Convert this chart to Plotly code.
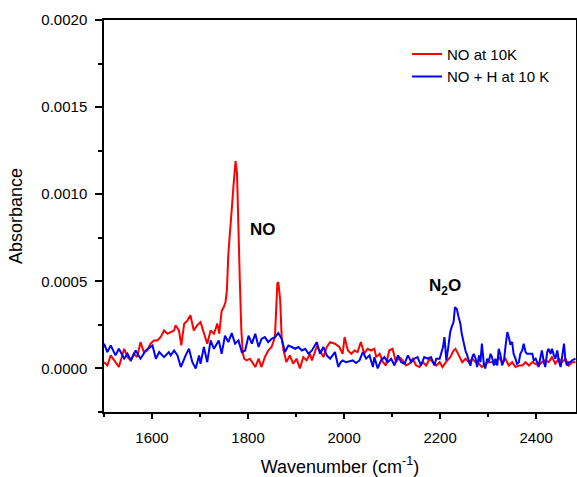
import plotly.graph_objects as go

# NO at 10K (red)
red_wn = [1500, 1507, 1514, 1521, 1531, 1542, 1549, 1556, 1562, 1569, 1576, 1583, 1590, 1597,
          1604, 1611, 1618, 1625, 1632, 1639, 1646, 1649, 1656, 1661, 1667, 1674, 1680, 1687,
          1694, 1701, 1708, 1715, 1722, 1729, 1736, 1740, 1745, 1749, 1753, 1756, 1759, 1763,
          1766, 1770, 1774, 1777, 1780, 1783, 1786, 1789, 1792, 1797, 1804, 1811, 1815, 1822,
          1828, 1835, 1842, 1849, 1856, 1861, 1863, 1867, 1870, 1874, 1880, 1887, 1894, 1901,
          1908, 1915, 1922, 1929, 1933, 1943, 1950, 1957, 1964, 1971, 1981, 1990, 1997, 2001,
          2008, 2015, 2022, 2028, 2035, 2042, 2049, 2056, 2063, 2067, 2074, 2081, 2087, 2094,
          2101, 2108, 2115, 2122, 2129, 2136, 2143, 2150, 2157, 2164, 2171, 2178, 2185, 2192,
          2199, 2205, 2212, 2221, 2228, 2232, 2239, 2246, 2253, 2260, 2267, 2274, 2281, 2287,
          2294, 2301, 2308, 2315, 2322, 2329, 2336, 2343, 2350, 2357, 2364, 2371, 2378, 2385,
          2392, 2399, 2405, 2412, 2419, 2426, 2433, 2440, 2447, 2454, 2461, 2468, 2475, 2482]
red_abs = [0.000036, 0.000017, 0.000075, 0.000046, 0.000008, 0.000113, 0.000065, 0.000046,
           0.000084, 0.000065, 0.000151, 0.000094, 0.000103, 0.000142, 0.000161, 0.000161,
           0.000180, 0.000218, 0.000199, 0.000209, 0.000218, 0.000247, 0.000218, 0.000132,
           0.000257, 0.000276, 0.000305, 0.000218, 0.000247, 0.000266, 0.000199, 0.000142,
           0.000218, 0.000199, 0.000257, 0.000200, 0.000330, 0.000350, 0.000380, 0.000450,
           0.000660, 0.000780, 0.000910, 0.001060, 0.001190, 0.001120, 0.000870, 0.000490,
           0.000220, 0.000090, 0.000056, 0.000046, 0.000056, 0.000027, 0.000008, 0.000056,
           0.000008, 0.000065, 0.000103, 0.000123, 0.000180, 0.000487, 0.000496, 0.000390,
           0.000180, 0.000103, 0.000036, 0.000075, 0.000027, 0.000056, 0.000000, 0.000065,
           0.000046, 0.000084, 0.000046, 0.000123, 0.000103, 0.000065, 0.000123, 0.000151,
           0.000142, 0.000123, 0.000084, 0.000180, 0.000103, 0.000084, 0.000103, 0.000094,
           0.000151, 0.000084, 0.000113, 0.000103, 0.000113, 0.000065, 0.000084, 0.000036,
           0.000017, 0.000103, 0.000113, 0.000036, 0.000065, 0.000046, 0.000017, 0.000027,
           0.000056, 0.000017, 0.000008, 0.000036, 0.000017, 0.000056, 0.000036, 0.000017,
           0.000036, 0.000008, 0.000036, 0.000065, 0.000103, 0.000113, 0.000075, 0.000036,
           0.000056, 0.000036, 0.000056, 0.000036, 0.000027, 0.000008, 0.000027, 0.000036,
           0.000036, 0.000027, 0.000065, 0.000036, 0.000056, 0.000017, 0.000036, 0.000008,
           0.000017, 0.000017, 0.000036, 0.000017, 0.000036, 0.000027, 0.000017, 0.000036,
           0.000046, 0.000036, 0.000065, 0.000027, 0.000056, 0.000036, 0.000056, 0.000017,
           0.000036, 0.000036]

# NO + H at 10 K (blue)
blue_wn = [1500, 1507, 1514, 1524, 1531, 1542, 1549, 1556, 1566, 1576, 1587, 1601, 1608, 1615,
           1625, 1635, 1639, 1646, 1653, 1660, 1670, 1677, 1684, 1691, 1698, 1701, 1708, 1715,
           1722, 1729, 1739, 1745, 1752, 1759, 1766, 1773, 1780, 1787, 1794, 1801, 1808, 1815,
           1822, 1828, 1835, 1842, 1849, 1856, 1863, 1870, 1877, 1884, 1891, 1898, 1905, 1912,
           1919, 1926, 1933, 1940, 1943, 1950, 1957, 1964, 1971, 1981, 1988, 1993, 1997, 2004,
           2011, 2018, 2025, 2032, 2039, 2046, 2053, 2060, 2063, 2070, 2077, 2084, 2091, 2098,
           2105, 2112, 2119, 2126, 2133, 2140, 2146, 2153, 2160, 2167, 2174, 2181, 2188, 2192,
           2199, 2206, 2209, 2213, 2217, 2221, 2224, 2228, 2231, 2235, 2238, 2242, 2245, 2249,
           2253, 2256, 2260, 2263, 2267, 2270, 2274, 2277, 2281, 2284, 2287, 2291, 2294, 2298,
           2301, 2305, 2308, 2312, 2315, 2319, 2322, 2326, 2329, 2333, 2336, 2340, 2343, 2346,
           2350, 2353, 2357, 2360, 2364, 2367, 2371, 2374, 2378, 2381, 2385, 2392, 2395, 2399,
           2402, 2405, 2409, 2412, 2416, 2419, 2423, 2426, 2430, 2433, 2437, 2440, 2444, 2447,
           2451, 2454, 2458, 2461, 2464, 2468, 2471, 2475, 2482]
blue_abs = [0.000142, 0.000094, 0.000132, 0.000075, 0.000113, 0.000056, 0.000084, 0.000046,
            0.000103, 0.000056, 0.000103, 0.000132, 0.000056, 0.000094, 0.000065, 0.000094,
            0.000075, 0.000103, 0.000075, 0.000008, 0.000075, 0.000113, 0.000036, 0.000000,
            0.000075, 0.000027, 0.000123, 0.000036, 0.000161, 0.000113, 0.000161, 0.000084,
            0.000188, 0.000151, 0.000203, 0.000142, 0.000161, 0.000094, 0.000103, 0.000188,
            0.000142, 0.000199, 0.000123, 0.000170, 0.000180, 0.000151, 0.000170, 0.000180,
            0.000203, 0.000170, 0.000094, 0.000132, 0.000123, 0.000113, 0.000123, 0.000103,
            0.000113, 0.000084, 0.000103, 0.000142, 0.000151, 0.000084, 0.000123, 0.000075,
            0.000056, 0.000094, 0.000008, 0.000036, 0.000046, 0.000036, 0.000042, 0.000046,
            0.000031, 0.000046, 0.000094, 0.000056, 0.000075, 0.000008, 0.000065, 0.000000,
            0.000046, 0.000065, 0.000036, 0.000056, 0.000017, 0.000075, 0.000036, 0.000027,
            0.000075, 0.000036, 0.000056, 0.000065, 0.000017, 0.000065, 0.000056, 0.000065,
            0.000017, 0.000056, 0.000056, 0.000123, 0.000180, 0.000046, 0.000123, 0.000209,
            0.000237, 0.000266, 0.000352, 0.000340, 0.000300, 0.000260, 0.000200, 0.000140,
            0.000100, 0.000080, 0.000040, 0.000015, 0.000065, 0.000084, 0.000056, 0.000008,
            0.000075, 0.000036, 0.000142, 0.000027, 0.000000, 0.000056, 0.000036, 0.000084,
            0.000065, 0.000017, 0.000056, 0.000017, 0.000113, 0.000075, 0.000017, 0.000046,
            0.000123, 0.000209, 0.000180, 0.000142, 0.000151, 0.000084, 0.000056, 0.000027,
            0.000036, 0.000084, 0.000103, 0.000142, 0.000094, 0.000084, 0.000084, 0.000084,
            0.000046, 0.000056, 0.000036, 0.000008, 0.000065, 0.000103, 0.000036, 0.000008,
            0.000094, 0.000113, 0.000084, 0.000113, 0.000075, 0.000056, 0.000103, 0.000046,
            0.000008, 0.000075, 0.000142, 0.000046, 0.000017, 0.000036, 0.000036, 0.000046,
            0.000056]

series_names = ["NO at 10K", "NO + H at 10 K"]
x_ticks = [1600, 1800, 2000, 2200, 2400]
y_ticks = [0.0, 0.0005, 0.0010, 0.0015, 0.0020]
y_tick_labels = ["0.0000", "0.0005", "0.0010", "0.0015", "0.0020"]

FONT = "Arial, Liberation Sans, sans-serif"

fig = go.Figure()
fig.add_trace(go.Scatter(x=red_wn, y=red_abs, mode="lines", name=series_names[0],
                         line=dict(color="#FF0000", width=2)))
fig.add_trace(go.Scatter(x=blue_wn, y=blue_abs, mode="lines", name=series_names[1],
                         line=dict(color="#0000FF", width=2)))

fig.add_annotation(x=1831, y=0.0008, text="<b>NO</b>", showarrow=False,
                   font=dict(family=FONT, size=17, color="black"))
fig.add_annotation(x=2210, y=0.00047, text="<b>N<sub>2</sub>O</b>", showarrow=False,
                   font=dict(family=FONT, size=17, color="black"))

fig.update_layout(
    width=577, height=477,
    margin=dict(l=104, r=1, t=20, b=65),
    paper_bgcolor="white", plot_bgcolor="white",
    font=dict(family=FONT, color="black"),
    showlegend=True,
    legend=dict(x=0.642, y=0.955, xanchor="left", yanchor="top",
                bgcolor="rgba(0,0,0,0)", borderwidth=0,
                font=dict(family=FONT, size=15, color="black"),
                tracegroupgap=0, itemwidth=30),
    xaxis=dict(range=[1500, 2483], tickvals=x_ticks, ticks="outside", ticklen=5,
               tickwidth=1.5, tickcolor="black", automargin=False,
               showline=True, linecolor="black", linewidth=1.5, mirror=True,
               showgrid=False, zeroline=False,
               minor=dict(dtick=100, tick0=1500, ticks="outside", ticklen=3,
                          tickwidth=1.5, tickcolor="black", showgrid=False),
               tickfont=dict(family=FONT, size=15),
               ticklabelstandoff=6,
               title=dict(text="Wavenumber (cm<sup>-1</sup>)",
                          font=dict(family=FONT, size=18), standoff=18)),
    yaxis=dict(range=[-0.00025, 0.0020], tickvals=y_ticks, ticktext=y_tick_labels,
               ticks="outside", ticklen=7, tickwidth=1.5, tickcolor="black",
               automargin=False,
               showline=True, linecolor="black", linewidth=1.5, mirror=True,
               showgrid=False, zeroline=False,
               minor=dict(dtick=0.00025, tick0=0, ticks="outside", ticklen=4,
                          tickwidth=1.5, tickcolor="black", showgrid=False),
               tickfont=dict(family=FONT, size=15),
               ticklabelstandoff=5,
               title=dict(text="Absorbance", font=dict(family=FONT, size=18), standoff=14)),
    xaxis2=dict(overlaying="x", side="top", range=[1500, 2483], tickvals=x_ticks,
                ticks="inside", ticklen=4, tickwidth=1.5, tickcolor="black", automargin=False,
                showticklabels=False, showline=False, showgrid=False, zeroline=False),
    yaxis2=dict(overlaying="y", side="right", range=[0, 5], dtick=1, automargin=False,
                ticks="inside", ticklen=3, tickwidth=1.5, tickcolor="black",
                showticklabels=False, showline=False, showgrid=False, zeroline=False),
)

fig.write_html("out.html",
               config={"displayModeBar": False},
               post_script="document.body.style.margin='0';document.body.style.overflow='hidden';")
